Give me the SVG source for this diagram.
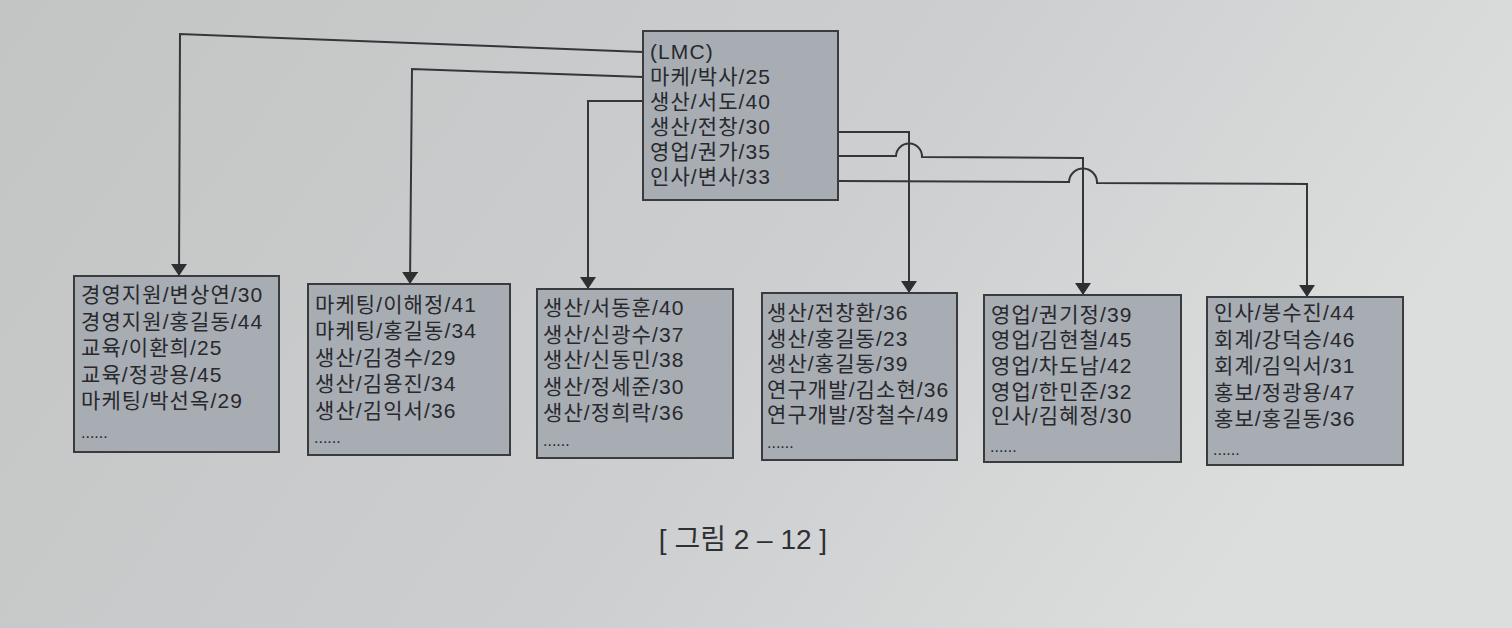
<svg xmlns="http://www.w3.org/2000/svg" width="1512" height="628" viewBox="0 0 1512 628">
<defs>
<linearGradient id="bg" x1="0" y1="0" x2="1" y2="0.3">
<stop offset="0" stop-color="#c3c4c4"/>
<stop offset="0.6" stop-color="#cdcecf"/>
<stop offset="1" stop-color="#dcdddd"/>
</linearGradient>
<marker id="arr" viewBox="0 0 12 16" refX="12" refY="8" markerWidth="12" markerHeight="16" markerUnits="userSpaceOnUse" orient="auto">
<path d="M0,0 L12,8 L0,16 z" fill="#2e2f31"/>
</marker>
</defs>
<style>
.box{fill:#a8acb3;stroke:#3a3b3d;stroke-width:2}
.t{font-family:"Liberation Sans","Noto Sans CJK KR",sans-serif;font-size:21px;letter-spacing:1.1px;fill:#27292d}
.d{font-size:16px;letter-spacing:0}
.c{fill:none;stroke:#35363a;stroke-width:2}
.cap{font-family:"Liberation Sans","Noto Sans CJK KR",sans-serif;font-size:28px;fill:#2e3034}
</style>
<rect x="0" y="0" width="1512" height="628" fill="url(#bg)"/>

<g id="connectors">
<path class="c" d="M643,52 L180,34 L179,276" marker-end="url(#arr)"/>
<path class="c" d="M643,77 L412,69 L410,284" marker-end="url(#arr)"/>
<path class="c" d="M643,101 L588,101 L588,289" marker-end="url(#arr)"/>
<path class="c" d="M838,132 L909,132 L909,293" marker-end="url(#arr)"/>
<path class="c" d="M838,156 L896,156 A13,13 0 0 1 922,157 L1083,158 L1083,295" marker-end="url(#arr)"/>
<path class="c" d="M838,181 L1069,182 A14,14 0 0 1 1097,183 L1307,184 L1307,297" marker-end="url(#arr)"/>
</g>

<g id="top">
<rect class="box" x="643" y="31" width="195" height="169"/>
<text class="t"><tspan x="650" y="59">(LMC)</tspan><tspan x="650" y="84">마케/박사/25</tspan><tspan x="650" y="109">생산/서도/40</tspan><tspan x="650" y="134">생산/전창/30</tspan><tspan x="650" y="159">영업/권가/35</tspan><tspan x="650" y="184">인사/변사/33</tspan></text>
</g>

<g id="n1">
<rect class="box" x="74" y="276" width="205" height="176"/>
<text class="t"><tspan x="81" y="302">경영지원/변상연/30</tspan><tspan x="81" y="328.5">경영지원/홍길동/44</tspan><tspan x="81" y="355">교육/이환희/25</tspan><tspan x="81" y="381.5">교육/정광용/45</tspan><tspan x="81" y="408">마케팅/박선옥/29</tspan><tspan class="d" x="81" y="438">......</tspan></text>
</g>

<g id="n2">
<rect class="box" x="308" y="284" width="202" height="171"/>
<text class="t"><tspan x="315" y="312">마케팅/이해정/41</tspan><tspan x="315" y="338">마케팅/홍길동/34</tspan><tspan x="315" y="364.5">생산/김경수/29</tspan><tspan x="315" y="391">생산/김용진/34</tspan><tspan x="315" y="417.5">생산/김익서/36</tspan><tspan class="d" x="314" y="443">......</tspan></text>
</g>

<g id="n3">
<rect class="box" x="537" y="289" width="196" height="169"/>
<text class="t"><tspan x="543" y="315">생산/서동훈/40</tspan><tspan x="543" y="341.5">생산/신광수/37</tspan><tspan x="543" y="367">생산/신동민/38</tspan><tspan x="543" y="393.5">생산/정세준/30</tspan><tspan x="543" y="420">생산/정희락/36</tspan><tspan class="d" x="543" y="446">......</tspan></text>
</g>

<g id="n4">
<rect class="box" x="762" y="293" width="195" height="167"/>
<text class="t"><tspan x="767" y="320">생산/전창환/36</tspan><tspan x="767" y="345.5">생산/홍길동/23</tspan><tspan x="767" y="371">생산/홍길동/39</tspan><tspan x="767" y="397">연구개발/김소현/36</tspan><tspan x="767" y="422">연구개발/장철수/49</tspan><tspan class="d" x="767" y="448">......</tspan></text>
</g>

<g id="n5">
<rect class="box" x="984" y="295" width="197" height="167"/>
<text class="t"><tspan x="991" y="322">영업/권기정/39</tspan><tspan x="991" y="347">영업/김현철/45</tspan><tspan x="991" y="373">영업/차도남/42</tspan><tspan x="991" y="398.5">영업/한민준/32</tspan><tspan x="991" y="423">인사/김혜정/30</tspan><tspan class="d" x="990" y="452">......</tspan></text>
</g>

<g id="n6">
<rect class="box" x="1207" y="297" width="196" height="168"/>
<text class="t"><tspan x="1214" y="320">인사/봉수진/44</tspan><tspan x="1214" y="346.5">회계/강덕승/46</tspan><tspan x="1214" y="373">회계/김익서/31</tspan><tspan x="1214" y="399.5">홍보/정광용/47</tspan><tspan x="1214" y="426">홍보/홍길동/36</tspan><tspan class="d" x="1213" y="455">......</tspan></text>
</g>

<text class="cap" x="743" y="549" text-anchor="middle">[ 그림 2 – 12 ]</text>
</svg>
